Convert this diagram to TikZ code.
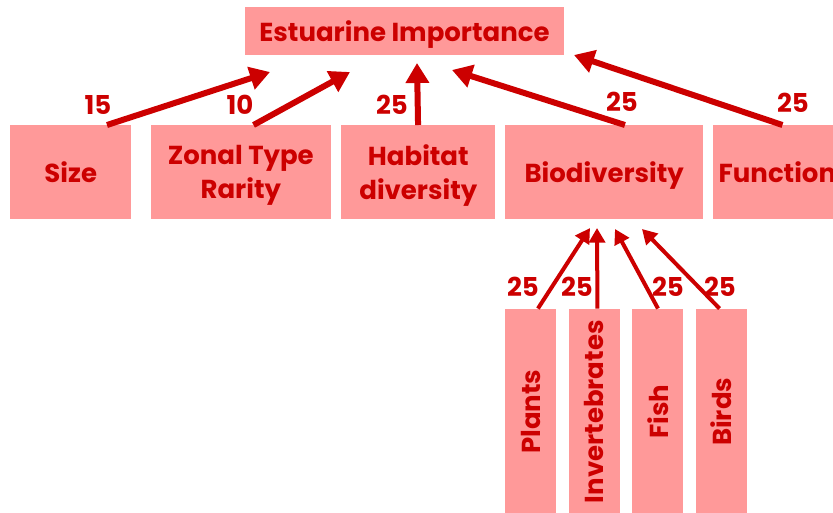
\documentclass[tikz,border=0pt]{standalone}
\usepackage{fontspec}
\setmainfont{Poppins}
\usetikzlibrary{positioning,calc,arrows.meta}
\definecolor{boxpink}{RGB}{255,153,153}
\definecolor{darkred}{RGB}{204,0,0}

\begin{document}
\begin{tikzpicture}[x=0.75pt,y=-0.75pt,
    box/.style={fill=boxpink, text=darkred, inner sep=0pt, align=center, text depth=0pt,
        font=\bfseries\fontsize{19.5}{25.5}\selectfont},
    rowbox/.style={box, minimum height=70.5pt},
    subbox/.style={box, minimum width=38.25pt, minimum height=154.5pt},
    weight/.style={text=darkred, inner sep=0pt, font=\bfseries\fontsize{19.5}{21}\selectfont},
    bigarr/.style={-{Triangle[length=15pt,width=17pt]}, line width=4.5pt, darkred},
    smallarr/.style={-{Triangle[length=11pt,width=12pt]}, line width=3pt, darkred}]
   \path[use as bounding box, clip] (0,0) rectangle (833,512);

   \node[box, minimum width=239.25pt, minimum height=36pt] (top) at (404.5,31) {Estuarine Importance};

   \node[rowbox, minimum width=90.75pt, anchor=north west] (size) at (10,125) {Size};
   \node[rowbox, minimum width=135pt] (zonal) [right=14.25pt of size] {Zonal Type\\Rarity};
   \node[rowbox, minimum width=115.5pt] (habitat) [right=7.5pt of zonal] {Habitat\\diversity};
   \node[rowbox, minimum width=148.5pt] (bio) [right=7pt of habitat] {Biodiversity};
   \node[rowbox, minimum width=126pt, inner xsep=4.5pt, text width=117pt, align=left] (func) [right=6.75pt of bio] {Function};

   \node[subbox, anchor=north west] (plants) at ($(bio.south west)+(0,89)$) {\rotatebox{90}{Plants}};
   \node[subbox] (inverts) [right=9pt of plants] {\rotatebox{90}{Invertebrates}};
   \node[subbox] (fish) [right=9pt of inverts] {\rotatebox{90}{Fish}};
   \node[subbox] (birds) [right=9pt of fish] {\rotatebox{90}{Birds}};

   % arrow heads end short of the boxes
   \coordinate (tipSize) at (270,72);
   \coordinate (tipZonal) at (350,72);
   \coordinate (tipHab) at (417,63);
   \coordinate (tipBio) at (452,70);
   \coordinate (tipFunc) at (574,55);
   \coordinate (tipPl) at (590,228);
   \coordinate (tipInv) at (597,228);
   \coordinate (tipFi) at (615,229);
   \coordinate (tipBi) at (642,229);

   \draw[bigarr] ($(size.north west)+(97,0)$) -- (tipSize);
   \draw[bigarr] ($(zonal.north west)+(103,0)$) -- (tipZonal);
   \draw[bigarr] ($(habitat.north west)+(77,0)$) -- (tipHab);
   \draw[bigarr] ($(bio.north west)+(120,0)$) -- (tipBio);
   \draw[bigarr] ($(func.north west)+(70,0)$) -- (tipFunc);

   \draw[smallarr] ($(plants.north west)+(33,0)$) -- (tipPl);
   \draw[smallarr] ($(inverts.north west)+(29,0)$) -- (tipInv);
   \draw[smallarr] ($(fish.north west)+(26,0)$) -- (tipFi);
   \draw[smallarr] ($(birds.north west)+(24,0)$) -- (tipBi);

   \node[weight] (wSize) at (98,105) {15};
   \node[weight] (wZonal) at (240,105) {10};
   \node[weight] (wHab) at (392,105) {25};
   \node[weight] (wBio) at (622,102) {25};
   \node[weight] (wFunc) at (793,103) {25};
   \node[weight] (wPl) at (523,287) {25};
   \node[weight] (wInv) at (577,287) {25};
   \node[weight] (wFi) at (668,287) {25};
   \node[weight] (wBi) at (720,287) {25};
\end{tikzpicture}
\end{document}
